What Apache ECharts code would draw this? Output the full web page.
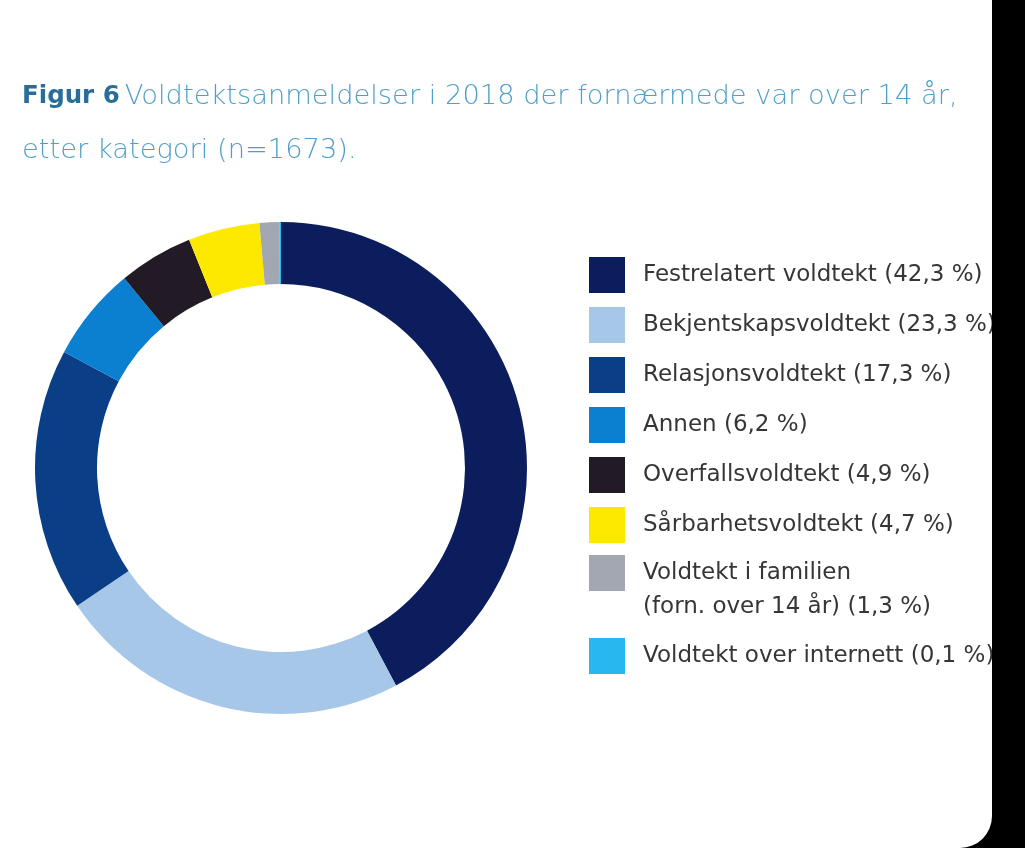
<!DOCTYPE html>
<html>
<head>
<meta charset="utf-8">
<script src="https://cdn.jsdelivr.net/npm/echarts@6/dist/echarts.min.js"></script>
<style>
html,body{margin:0;padding:0;background:#fff;overflow:hidden;}
#c{position:absolute;left:0;top:0;width:1025px;height:848px;}
#frame{position:absolute;left:-100px;top:-100px;width:1092px;height:948px;border-bottom-right-radius:32px;box-shadow:0 0 0 2000px #000;pointer-events:none;z-index:10;}
</style>
</head>
<body>
<div id="c"></div>
<div id="frame"></div>
<script>
// ---- data ----
const titleBold = 'Figur 6';
const titleLine1 = 'Voldtektsanmeldelser i 2018 der fornærmede var over 14 år,';
const titleLine2 = 'etter kategori (n=1673).';
const categories = [
  'Festrelatert voldtekt',
  'Bekjentskapsvoldtekt',
  'Relasjonsvoldtekt',
  'Annen',
  'Overfallsvoldtekt',
  'Sårbarhetsvoldtekt',
  'Voldtekt i familien\n(forn. over 14 år)',
  'Voldtekt over internett'
];
const values = [42.3, 23.3, 17.3, 6.2, 4.9, 4.7, 1.3, 0.1];
const colors = ['#0b1d5c', '#a6c7e8', '#0a3f88', '#0b80d0', '#221b25', '#fde900', '#a3a7b1', '#27b8f0'];

// ---- build ----
const fmt = v => String(v).replace('.', ',');
const names = categories.map((c, i) => c + ' (' + fmt(values[i]) + ' %)');
const pieData = names.map((n, i) => ({ name: n, value: values[i], itemStyle: { color: colors[i] } }));

const legendBase = {
  orient: 'vertical',
  left: 589,
  padding: 0,
  itemWidth: 36,
  itemHeight: 36,
  itemGap: 14,
  icon: 'rect',
  selectedMode: false,
  textStyle: {
    fontFamily: 'DejaVu Sans',
    fontSize: 23,
    color: '#363636',
    lineHeight: 34,
    padding: [0, 0, 0, 13]
  }
};

const chart = echarts.init(document.getElementById('c'), null, { renderer: 'canvas' });
chart.setOption({
  animation: false,
  backgroundColor: '#ffffff',
  title: {
    left: 22,
    top: 70,
    padding: 0,
    text: '{b|' + titleBold + '} {n|' + titleLine1 + '}\n{n|' + titleLine2 + '}',
    textStyle: {
      rich: {
        b: { fontFamily: 'DejaVu Sans', fontWeight: 'bold', fontSize: 24.5, color: '#2a6d98', lineHeight: 54 },
        n: { fontFamily: 'DejaVu Sans', fontWeight: 200, fontSize: 27.3, color: '#4f9fc8', lineHeight: 54 }
      }
    }
  },
  legend: [
    Object.assign({}, legendBase, { top: 257, data: names.slice(0, 6) }),
    Object.assign({}, legendBase, {
      top: 522, data: [names[6]],
      formatter: n => '\n' + n
    }),
    Object.assign({}, legendBase, { top: 638, data: [names[7]] })
  ],
  series: [{
    type: 'pie',
    center: [281, 468],
    radius: [184, 246],
    startAngle: 90,
    clockwise: true,
    silent: true,
    label: { show: false },
    labelLine: { show: false },
    itemStyle: { borderWidth: 0 },
    emphasis: { disabled: true },
    data: pieData
  }]
});
</script>
</body>
</html>
